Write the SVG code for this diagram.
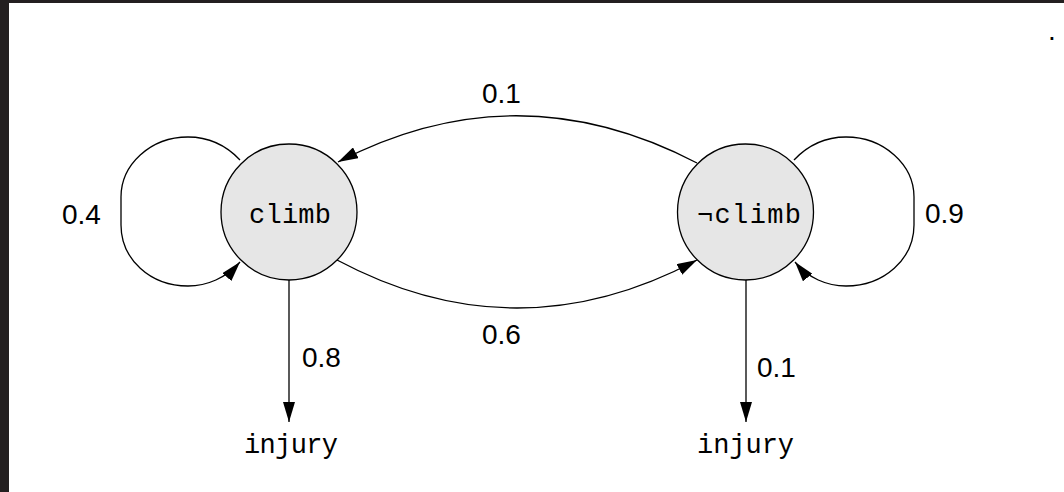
<svg xmlns="http://www.w3.org/2000/svg" width="1064" height="492" viewBox="0 0 1064 492">
<style>
.node circle{fill:#e6e6e6;stroke:#000;stroke-width:1.3}
.mono{font-family:"Liberation Mono","DejaVu Sans Mono",monospace;font-size:27px;fill:#000}
.lbl{font-family:"Liberation Sans","DejaVu Sans",sans-serif;font-size:28px;fill:#000}
.edge{fill:none;stroke:#000;stroke-width:1.3}
</style>
<defs>
<marker id="arr" viewBox="0 0 20 12" refX="20" refY="6" markerWidth="20" markerHeight="12" markerUnits="userSpaceOnUse" orient="auto">
<path d="M0,0 L20,6 L0,12 Z" fill="#000"/>
</marker>
</defs>
<rect x="0" y="0" width="1064" height="492" fill="#fff"/>
<rect x="0" y="0" width="1064" height="3" fill="#231f20"/>
<rect x="0" y="0" width="9" height="492" fill="#231f20"/>
<text class="lbl" x="1048" y="40">.</text>
<g id="connectors">
<path class="edge" marker-end="url(#arr)" d="M240,160 C224,143 206,137 188,137 C150,137 121,165 121,197 L121,225 C121,259 150,286 188,286 C207,286 226,278 240,262"/>
<path class="edge" marker-end="url(#arr)" d="M794,160 C810,143 828,137 846,137 C884,137 914,165 914,197 L914,225 C914,259 884,286 846,286 C827,286 808,278 795,262"/>
<path class="edge" marker-end="url(#arr)" d="M697,163 Q517,69 338,162"/>
<path class="edge" marker-end="url(#arr)" d="M337,260 Q517,356 697,260"/>
<path class="edge" marker-end="url(#arr)" d="M289,280 L289,422"/>
<path class="edge" marker-end="url(#arr)" d="M746,280 L746,422"/>
<text class="lbl" x="62" y="224">0.4</text>
<text class="lbl" x="925" y="223">0.9</text>
<text class="lbl" x="482" y="103">0.1</text>
<text class="lbl" x="482" y="344">0.6</text>
<text class="lbl" x="302" y="367">0.8</text>
<text class="lbl" x="757" y="377">0.1</text>
</g>
<g id="climb" class="node">
<circle cx="289" cy="212" r="68"/>
<text class="mono" x="249" y="223" textLength="82">climb</text>
</g>
<g id="notclimb" class="node">
<circle cx="745.5" cy="212" r="68"/>
<text class="mono" x="697" y="223" textLength="104">¬climb</text>
</g>
<g id="injury1">
<text class="mono" x="244" y="453" textLength="94">injury</text>
</g>
<g id="injury2">
<text class="mono" x="697" y="453" textLength="97">injury</text>
</g>
</svg>
